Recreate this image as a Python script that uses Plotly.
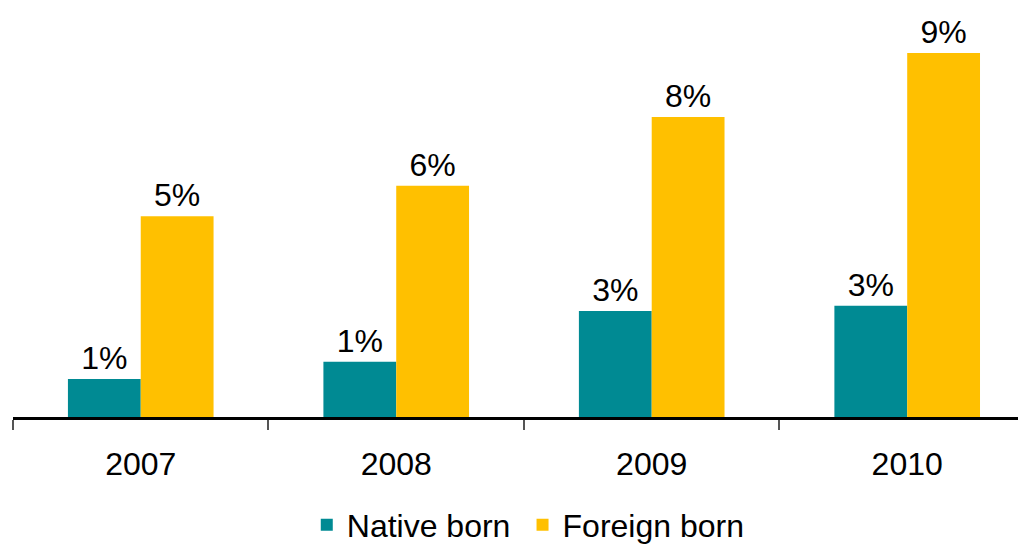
import plotly.graph_objects as go

years = ['2007', '2008', '2009', '2010']
native = [0.95, 1.38, 2.65, 2.78]
foreign = [5.02, 5.78, 7.5, 9.1]
native_labels = ['1%', '1%', '3%', '3%']
foreign_labels = ['5%', '6%', '8%', '9%']

fig = go.Figure()
fig.add_trace(go.Bar(
    x=years, y=native, name='Native born', legend='legend',
    marker_color='#008A93', marker_line_width=0,
    text=native_labels, textposition='outside', cliponaxis=False,
    textfont=dict(size=32, color='black')
))
fig.add_trace(go.Bar(
    x=years, y=foreign, name='Foreign born', legend='legend2',
    marker_color='#FFC000', marker_line_width=0,
    text=foreign_labels, textposition='outside', cliponaxis=False,
    textfont=dict(size=32, color='black')
))

leg = dict(orientation='h', xanchor='left', y=-0.264, yanchor='middle',
           font=dict(size=32), itemwidth=30)

# page body has an 8px margin, so the figure is sized to fit inside the window
fig.update_layout(
    width=1018, height=536,
    margin=dict(l=5, r=0, t=0, b=127, autoexpand=False),
    plot_bgcolor='white', paper_bgcolor='white',
    font=dict(family='Liberation Sans, Arial, sans-serif', size=32, color='black'),
    bargap=0.43, bargroupgap=0,
    showlegend=True,
    legend=dict(leg, x=0.290),
    legend2=dict(leg, x=0.503),
)
fig.update_xaxes(
    range=[-0.5, 3.465], showline=True, linecolor='black', linewidth=2.5,
    ticks='outside', tickson='boundaries', ticklen=10, tickcolor='#555555', tickwidth=1.5,
    tickfont=dict(size=32), ticklabelstandoff=17, showgrid=False, automargin=False
)
fig.update_yaxes(range=[0, 10.225], visible=False, showgrid=False, zeroline=False,
                 automargin=False)

fig.write_html('out.html')
